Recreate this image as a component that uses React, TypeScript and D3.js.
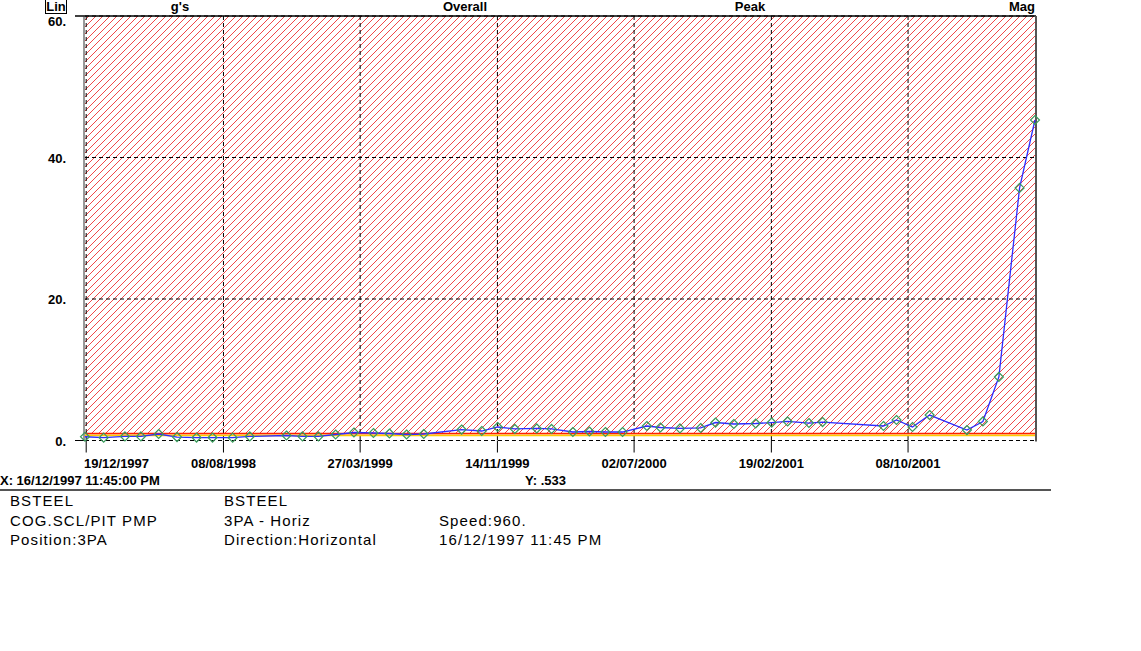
import React from "react";
import * as d3 from "d3";

const readingDates: string[] = [
  "1997-12-16T23:45", "1998-01-17T12:00", "1998-02-22T12:00", "1998-03-21T12:00", "1998-04-20T12:00",
  "1998-05-21T12:00", "1998-06-23T12:00", "1998-07-20T12:00", "1998-08-23T12:00", "1998-09-21T12:00",
  "1998-11-22T12:00", "1998-12-19T12:00", "1999-01-15T12:00", "1999-02-13T12:00", "1999-03-16T12:00",
  "1999-04-18T12:00", "1999-05-15T12:00", "1999-06-13T12:00", "1999-07-12T12:00", "1999-09-14T12:00",
  "1999-10-18T12:00", "1999-11-14T12:00", "1999-12-13T12:00", "2000-01-19T12:00", "2000-02-13T12:00",
  "2000-03-20T12:00", "2000-04-17T12:00", "2000-05-14T12:00", "2000-06-12T12:00", "2000-07-23T12:00",
  "2000-08-15T12:00", "2000-09-17T12:00", "2000-10-22T12:00", "2000-11-16T12:00", "2000-12-17T12:00",
  "2001-01-23T12:00", "2001-02-19T12:00", "2001-03-18T12:00", "2001-04-23T12:00", "2001-05-16T12:00",
  "2001-08-27T12:00", "2001-09-18T12:00", "2001-10-15T12:00", "2001-11-13T12:00", "2002-01-15T12:00",
  "2002-02-11T12:00", "2002-03-10T12:00", "2002-04-14T12:00", "2002-05-10T12:00",
];

const readingValues: number[] = [
  0.533, 0.40, 0.57, 0.57, 0.92,
  0.49, 0.42, 0.42, 0.40, 0.57,
  0.71, 0.57, 0.57, 0.85, 1.13,
  1.06, 0.99, 0.85, 0.92, 1.55,
  1.34, 1.91, 1.63, 1.70, 1.63,
  1.20, 1.27, 1.20, 1.20, 2.05,
  1.84, 1.70, 1.77, 2.54, 2.33,
  2.40, 2.54, 2.69, 2.47, 2.61,
  2.05, 2.90, 1.91, 3.60, 1.48,
  2.69, 8.98, 35.7, 45.3,
];

const xTickDates: string[] = [
  "1997-12-19", "1998-08-08", "1999-03-27", "1999-11-14", "2000-07-02", "2001-02-19", "2001-10-08",
];
const yTicks: number[] = [0, 20, 40, 60];
const yTickLabels: string[] = ["0.", "20.", "40.", "60."];
const topLabels: string[] = ["g's", "Overall", "Peak", "Mag"];
const alarmHigh = 1.0;
const alarmLow = 0.72;
const xDomain: string[] = ["1997-12-16T23:45", "2002-05-12T06:00"];

const infoCol1: string[] = ["BSTEEL", "COG.SCL/PIT PMP", "Position:3PA"];
const infoCol2: string[] = ["BSTEEL", "3PA - Horiz", "Direction:Horizontal"];
const infoCol3: string[] = ["", "Speed:960.", "16/12/1997 11:45 PM"];

const parse = (s: string) => new Date(s + (s.length <= 10 ? "T00:00Z" : "Z"));

export default function App() {
  const W = 1141, H = 651;
  const left = 85, right = 1036, top = 16, bottom = 440.5;
  const x = d3.scaleUtc().domain(xDomain.map(parse)).range([left, right]);
  const y = d3.scaleLinear().domain([0, 60]).range([bottom, top]);
  const fmt = d3.utcFormat("%d/%m/%Y");
  const pts = readingDates.map((d, i) => ({ d: parse(d), v: readingValues[i] }));
  const line = d3.line<{ d: Date; v: number }>().x((p) => x(p.d)).y((p) => y(p.v));
  const bold = { fontFamily: "'Liberation Sans', Arial, sans-serif", fontWeight: 700, fontSize: 13 };
  const info = { fontFamily: "'Liberation Sans', Arial, sans-serif", fontSize: 15, letterSpacing: 1.1 };
  const topX = [180, 465, 750];

  return (
    <svg width={W} height={H} style={{ position: "absolute", left: 0, top: 0, background: "#fff" }}>
      <defs>
        <pattern id="hatch" patternUnits="userSpaceOnUse" width={7} height={7}>
          <path d="M-1,1 l2,-2 M0,7 l7,-7 M6,8 l2,-2" stroke="#f0484a" strokeWidth={1} />
        </pattern>
      </defs>
      <rect x={left} y={top} width={right - left} height={y(alarmHigh) - top} fill="url(#hatch)" />
      {yTicks.map((t) => (
        <line key={"gy" + t} x1={left} x2={right} y1={y(t)} y2={y(t)} stroke="#000" strokeDasharray="4,3" strokeWidth={1} />
      ))}
      {xTickDates.map((t) => (
        <line key={"gx" + t} x1={x(parse(t))} x2={x(parse(t))} y1={top} y2={bottom} stroke="#000" strokeDasharray="4,3" strokeWidth={1} />
      ))}
      <line x1={left} x2={right} y1={y(alarmLow)} y2={y(alarmLow)} stroke="#ffcc00" strokeWidth={1.6} />
      <line x1={left} x2={right} y1={y(alarmHigh)} y2={y(alarmHigh)} stroke="#ff2000" strokeWidth={1.6} />
      <line x1={left - 10} x2={right} y1={top} y2={top} stroke="#000" strokeWidth={1.5} />
      <line x1={left - 1} x2={left - 1} y1={top} y2={bottom} stroke="#333" strokeWidth={1} />
      <line x1={right} x2={right} y1={top} y2={bottom + 1} stroke="#555" strokeWidth={2} />
      <line x1={left - 10} x2={left} y1={bottom} y2={bottom} stroke="#000" strokeWidth={1} />
      {xTickDates.map((t) => (
        <line key={"tx" + t} x1={x(parse(t))} x2={x(parse(t))} y1={bottom} y2={bottom + 12} stroke="#000" strokeWidth={1} />
      ))}
      <path d={line(pts) || ""} fill="none" stroke="#2d2dff" strokeWidth={1.3} />
      {pts.map((p, i) => {
        const cx = x(p.d), cy = y(p.v);
        const r = 4.5;
        return (
          <path key={"m" + i} d={`M${cx},${cy - r} L${cx + r},${cy} L${cx},${cy + r} L${cx - r},${cy} Z`} fill="none" stroke="#3a9a5c" strokeWidth={1.2} />
        );
      })}
      {yTicks.map((t, i) => (
        <text key={"yl" + t} x={66} y={t === 60 ? y(t) + 10 : y(t) + 5} textAnchor="end" style={bold}>{yTickLabels[i]}</text>
      ))}
      {xTickDates.map((t, i) => {
        const px = x(parse(t));
        return (
          <text key={"xl" + t} x={i === 0 ? 84 : px} y={468} textAnchor={i === 0 ? "start" : "middle"} style={bold}>{fmt(parse(t))}</text>
        );
      })}
      <rect x={45.5} y={-0.5} width={21} height={14} fill="none" stroke="#000" strokeWidth={1} />
      <text x={56} y={11} textAnchor="middle" style={bold}>Lin</text>
      {topLabels.slice(0, 3).map((l, i) => (
        <text key={l} x={topX[i]} y={11} textAnchor="middle" style={bold}>{l}</text>
      ))}
      <text x={1035} y={11} textAnchor="end" style={bold}>{topLabels[3]}</text>
      <text x={0} y={485} style={bold}>X: 16/12/1997 11:45:00 PM</text>
      <text x={525} y={485} style={bold}>Y: .533</text>
      <line x1={0} x2={1051} y1={490} y2={490} stroke="#555" strokeWidth={2} />
      {infoCol1.map((s, i) => (
        <text key={"c1" + i} x={10} y={506 + i * 19.5} style={info}>{s}</text>
      ))}
      {infoCol2.map((s, i) => (
        <text key={"c2" + i} x={224} y={506 + i * 19.5} style={info}>{s}</text>
      ))}
      {infoCol3.map((s, i) => (
        <text key={"c3" + i} x={439} y={506 + i * 19.5} style={info}>{s}</text>
      ))}
    </svg>
  );
}
